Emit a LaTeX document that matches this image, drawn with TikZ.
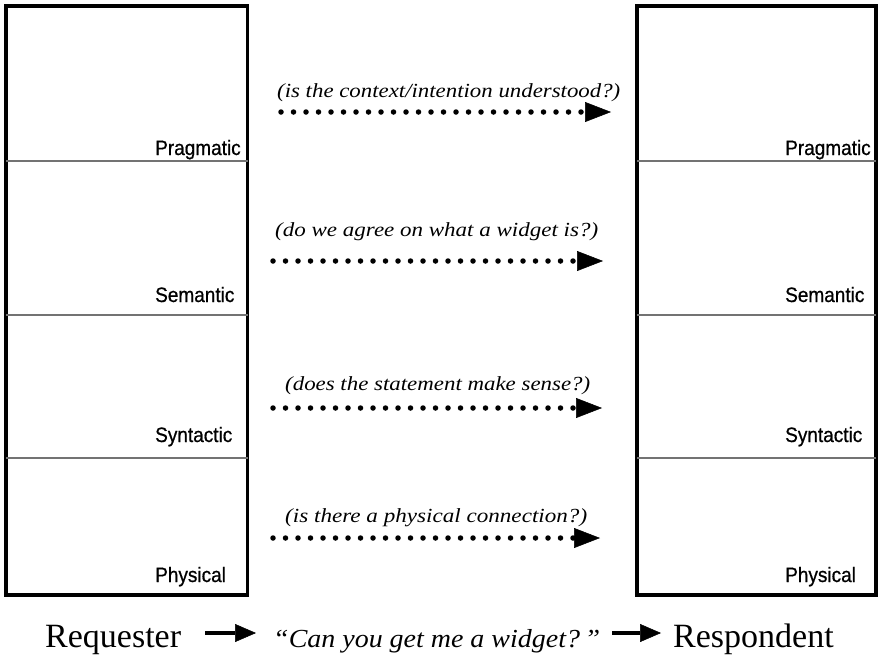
\documentclass[tikz,border=0pt]{standalone}
\usepackage{fontspec}
\setmainfont{Liberation Serif}
\newfontfamily\arialf[FakeBold=0.7]{Liberation Sans}
\usetikzlibrary{arrows.meta}
\begin{document}
\begin{tikzpicture}[x=1pt,y=-1pt,
  stack/.style={draw=black, line width=3.5pt, inner sep=0pt, outer sep=0pt, anchor=north west},
  divider/.style={draw=black!55, line width=1.4pt},
  layer/.style={anchor=base west, inner sep=0pt, font=\arialf\fontsize{19}{22}\selectfont},
  question/.style={anchor=base west, inner sep=0pt, font=\itshape\fontsize{20}{24}\selectfont},
  dotarrow/.style={line width=5.5pt, line cap=round, dash pattern=on 0pt off 12.5pt,
     -{Triangle[length=26pt,width=20pt,line width=0.5pt]}},
  flow/.style={line width=3.5pt, -{Triangle[length=21pt,width=18pt,line width=0.5pt]}},
  big/.style={anchor=base west, inner sep=0pt, font=\fontsize{34}{40}\selectfont},
  quote/.style={anchor=base west, inner sep=0pt, font=\itshape\fontsize{26}{30}\selectfont},
]
\useasboundingbox (0,0) rectangle (879,659);
\fill[white] (0,0) rectangle (879,659);

% stacks
\node[stack, minimum width=241.5pt, minimum height=589pt] (reqbox) at (6,6) {};
\node[stack, minimum width=239pt, minimum height=589pt] (resbox) at (637,6) {};
\foreach \y in {161,315,458}{
  \draw[divider] (6,\y) -- (247.5,\y);
  \draw[divider] (637,\y) -- (876,\y);
}

% layer labels
\node[layer] (lp) at (155,155) {\scalebox{1}[1.1]{Pragmatic}};
\node[layer] (ls) at (155,302) {\scalebox{1}[1.1]{Semantic}};
\node[layer] (ly) at (155,442) {\scalebox{1}[1.1]{Syntactic}};
\node[layer] (lh) at (155,582) {\scalebox{1}[1.1]{Physical}};
\node[layer] (rp) at (785,155) {\scalebox{1}[1.1]{Pragmatic}};
\node[layer] (rs) at (785,302) {\scalebox{1}[1.1]{Semantic}};
\node[layer] (ry) at (785,442) {\scalebox{1}[1.1]{Syntactic}};
\node[layer] (rh) at (785,582) {\scalebox{1}[1.1]{Physical}};

% questions
\node[question] (t1) at (277,97) {\resizebox{343pt}{\height}{(is the context/intention understood?)}};
\node[question] (t2) at (275,236) {\resizebox{323pt}{\height}{(do we agree on what a widget is?)}};
\node[question] (t3) at (285,390) {\resizebox{305pt}{\height}{(does the statement make sense?)}};
\node[question] (t4) at (285,522) {\resizebox{302pt}{\height}{(is there a physical connection?)}};

\coordinate (a1s) at (281,112); \coordinate (a1e) at (611,112);
\coordinate (a2s) at (273,261); \coordinate (a2e) at (603,261);
\coordinate (a3s) at (273,408); \coordinate (a3e) at (602,408);
\coordinate (a4s) at (273,538); \coordinate (a4e) at (600,538);
\draw[dotarrow] (a1s) -- (a1e);
\draw[dotarrow] (a2s) -- (a2e);
\draw[dotarrow] (a3s) -- (a3e);
\draw[dotarrow] (a4s) -- (a4e);

% bottom line
\node[big] (req) at (45,647) {Requester};
\node[quote] (qt) at (273,647) {\resizebox{327pt}{\height}{“Can you get me a widget?\,”}};
\node[big] (resp) at (673,647) {Respondent};
\coordinate (f1s) at (205,633); \coordinate (f1e) at (256,633);
\coordinate (f2s) at (612,633); \coordinate (f2e) at (661,633);
\draw[flow] (f1s) -- (f1e);
\draw[flow] (f2s) -- (f2e);
\end{tikzpicture}
\end{document}
